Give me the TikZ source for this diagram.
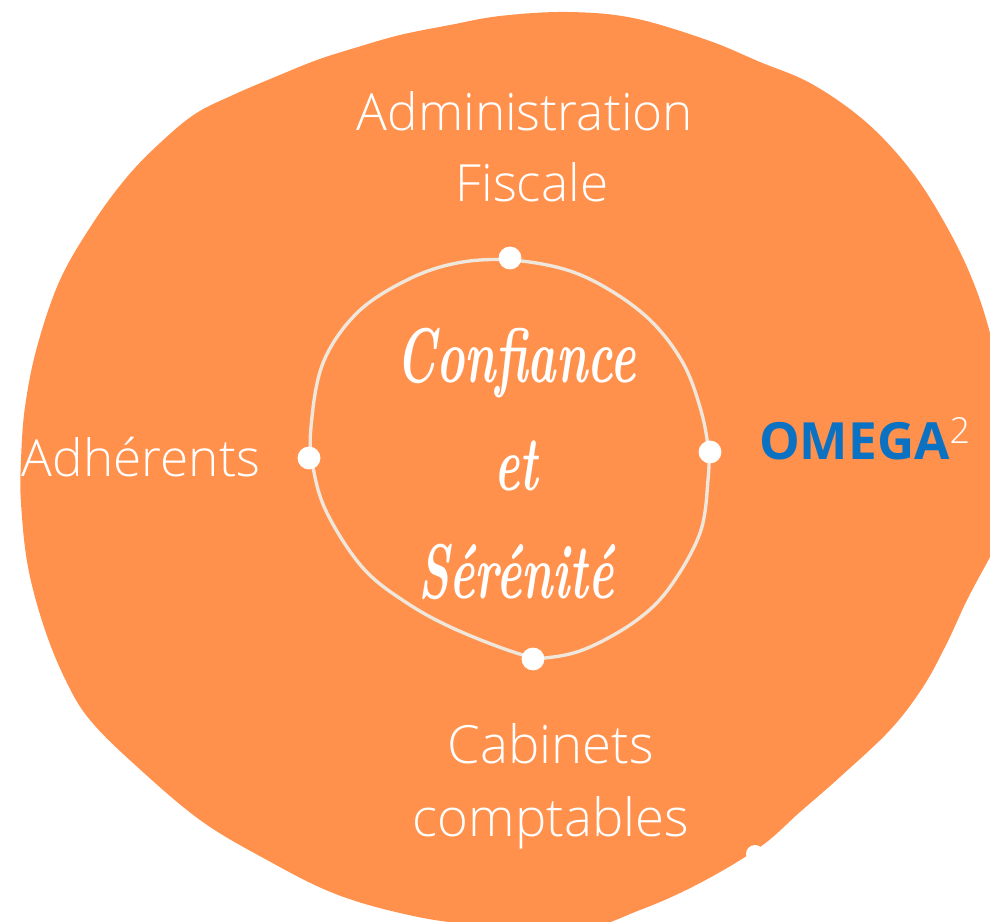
\documentclass[tikz,border=0pt]{standalone}
\usepackage{fontspec}
\setmainfont{Open Sans}[UprightFont=* Light,BoldFont=* Bold]
\newfontfamily\mottofont{Latin Modern Roman}
\definecolor{blobcolor}{HTML}{FF914D}
\definecolor{ringcolor}{HTML}{EFE6DC}
\definecolor{omegacolor}{HTML}{0B71C2}
\tikzset{
	party/.style={text=white,font=\fontsize{29.2}{29.2}\selectfont,inner sep=0pt,anchor=base},
	lowerparty/.style={party,font=\fontsize{30}{30}\selectfont},
	motto/.style={text=white,font=\mottofont\itshape\bfseries\fontsize{44}{44}\selectfont,inner sep=0pt,anchor=base,xscale=0.62,transform shape},
	spot/.style={circle,fill=white,minimum width=13pt,inner sep=0pt},
}
\begin{document}
\begin{tikzpicture}[x=0.02cm,y=-0.02cm]
	\useasboundingbox (0,0) rectangle (990,922);
	\clip (0,0) rectangle (990,922);
	\fill[blobcolor] plot[smooth cycle,tension=0.6] coordinates {
		(500,16) (567,12) (633,18) (707,40) (760,62) (810,83) (860,117) (900,157) (933,203) (967,267) (990,333)
		(1008,420) (1012,515) (990,557) (967,600) (947,643) (923,687) (890,730) (840,777) (800,812) (760,847) (700,883) (640,910) (575,930)
		(467,924) (400,913) (333,893) (267,860) (200,820) (133,763) (90,720) (67,683) (45,630) (28,567)
		(21,503) (21,460) (25,407) (37,347) (60,280) (93,223) (127,177) (160,143) (195,114) (233,95)
		(275,77) (317,60) (358,47) (400,35) (450,25)};
	\fill[white] (755,854) circle (9);
	\draw[ringcolor,line width=1.9pt] plot[smooth cycle,tension=0.6] coordinates {
		(510,260) (567,270) (613,292) (653,323) (683,363) (700,407) (708,447) (708,480) (700,533)
		(670,587) (637,620) (590,647) (553,657) (523,655) (457,630) (407,603) (363,568)
		(327,513) (313,467) (311,427) (323,363) (357,313) (407,280) (457,263)};
	\node[spot] (dottop) at (510,258) {};
	\node[spot] (dotright) at (710,452) {};
	\node[spot] (dotbottom) at (533,659) {};
	\node[spot] (dotleft) at (309,458) {};
	\node[party] (admin) at (525,131) {Administration};
	\node[party] (fiscale) at (532,202) {Fiscale};
	\node[party] (adherents) at (141,476) {Adhérents};
	\node[lowerparty] (cabinets) at (551,763) {Cabinets};
	\node[lowerparty] (comptables) at (551,836) {comptables};
	\node[inner sep=0pt,anchor=base,text=omegacolor,font=\bfseries\fontsize{29.2}{29.2}\selectfont] (omega) at (865,459) {OMEGA\textsuperscript{\mdseries\color{white}2}};
	\node[motto] (confiance) at (516,382) {Confiance};
	\node[motto] (et) at (516,490) {et};
	\node[motto] (serenite) at (516,598) {Sérénité};
\end{tikzpicture}
\end{document}
